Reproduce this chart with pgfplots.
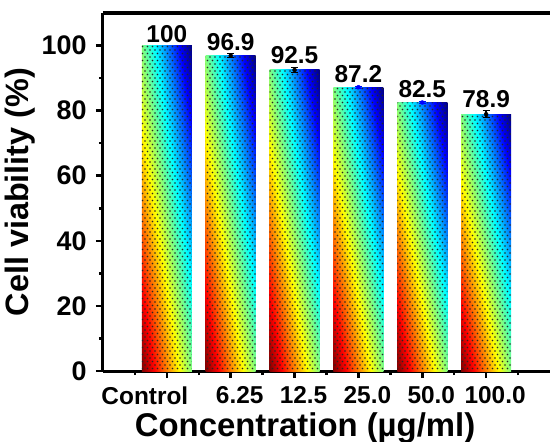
\documentclass[border=0pt]{standalone}
\usepackage{fontspec}
\setmainfont{Liberation Sans}
\usepackage{pgfplots}
\pgfplotsset{compat=1.18}
\usetikzlibrary{patterns}

% diagonal jet shading: dark red at bottom-left corner, dark blue at top-right corner
\pgfdeclarefunctionalshading{jetdiag}{\pgfpointorigin}{\pgfpoint{100bp}{100bp}}{}{%
 add 25 div dup dup 3 sub abs 1.5 exch sub 3 1 roll 4 sub abs 1.5 exch sub exch 5 sub abs 1.5 exch sub}

\pgfdeclarepatternformonly{bardots}{\pgfqpoint{-1bp}{-1bp}}{\pgfqpoint{6bp}{8bp}}{\pgfqpoint{5bp}{7bp}}{%
 \pgfpathcircle{\pgfqpoint{0bp}{0bp}}{0.95bp}%
 \pgfpathcircle{\pgfqpoint{2.5bp}{3.5bp}}{0.95bp}%
 \pgfusepath{fill}}

\pgfplotsset{
  jetbar/.style={ybar, bar shift=0pt, bar width=0.783, draw=none,
    shade, shading=jetdiag, shading angle=0},
}

\begin{document}
\begin{tikzpicture}
\begin{axis}[name=ax, scale only axis, width=447bp, height=358bp,
  xmin=-1, xmax=6, ymin=0, ymax=110,
  axis x line*=bottom, axis y line*=left,
  axis line style={line width=3bp, black},
  tick align=outside, major tick length=7bp, minor tick length=4bp,
  every tick/.style={line width=2.5bp, black},
  xtick={1,2,3,4,5}, xticklabels={6.25,12.5,25.0,50.0,100.0},
  extra x ticks={0}, extra x tick labels={Control},
  extra x tick style={x tick label style={xshift=-31bp}},
  minor xtick={-0.5,0.5,1.5,2.5,3.5,4.5,5.5},
  ytick={0,20,40,60,80,100}, minor ytick={10,30,50,70,90},
  /pgf/number format/assume math mode=true,
  x tick label style={font=\bfseries\fontsize{24.5}{24.5}\selectfont, yshift=-5bp, xshift=9bp},
  y tick label style={font=\bfseries\fontsize{27}{27}\selectfont, xshift=-6bp},
  xlabel={Concentration (µg/ml)},
  ylabel={Cell viability (\%)},
  xlabel style={font=\bfseries\fontsize{33}{33}\selectfont, at={(axis description cs:0.452,0)}, anchor=north, yshift=-38bp},
  ylabel style={font=\bfseries\fontsize{32.5}{32.5}\selectfont},
  clip=false,
]
\addplot[jetbar] coordinates {(0,100)};
\addplot[jetbar] coordinates {(1,96.9)};
\addplot[jetbar] coordinates {(2,92.5)};
\addplot[jetbar] coordinates {(3,87.2)};
\addplot[jetbar] coordinates {(4,82.5)};
\addplot[jetbar] coordinates {(5,78.9)};
% dot pattern overlay
\addplot[ybar, bar shift=0pt, bar width=0.783, draw=none, pattern=bardots, pattern color=black!85]
  coordinates {(0,100) (1,96.9) (2,92.5) (3,87.2) (4,82.5) (5,78.9)};
% error bars
\addplot[only marks, mark=none, black, error bars/.cd, y dir=both, y explicit,
  error bar style={line width=1.3bp, black},
  error mark options={rotate=90, mark size=3.5bp, line width=1.3bp, black}]
  coordinates {(1,96.9) +- (0,0.6) (2,92.5) +- (0,0.8) (5,78.9) +- (0,1.1)};
\addplot[only marks, mark=none, blue, error bars/.cd, y dir=both, y explicit,
  error bar style={line width=1.3bp, blue},
  error mark options={rotate=90, mark size=3.5bp, line width=1.3bp, blue}]
  coordinates {(3,87.2) +- (0,0.3) (4,82.5) +- (0,0.4)};
% value labels
\addplot[only marks, mark=none, nodes near coords, point meta=explicit symbolic,
  every node near coord/.append style={font=\bfseries\fontsize{24.5}{24.5}\selectfont, black, anchor=south, inner sep=3bp}]
  coordinates {(0,100)[100] (1,97.5)[96.9] (2,93.3)[92.5] (3,87.5)[87.2] (4,82.9)[82.5] (5,80.0)[78.9]};
\end{axis}
\draw[line width=4bp, black] (ax.north west) -- (ax.north east);
\pgfresetboundingbox
\path ([shift={(-103bp,-71bp)}]ax.south west) rectangle ([shift={(0bp,13bp)}]ax.north east);
\end{tikzpicture}
\end{document}
